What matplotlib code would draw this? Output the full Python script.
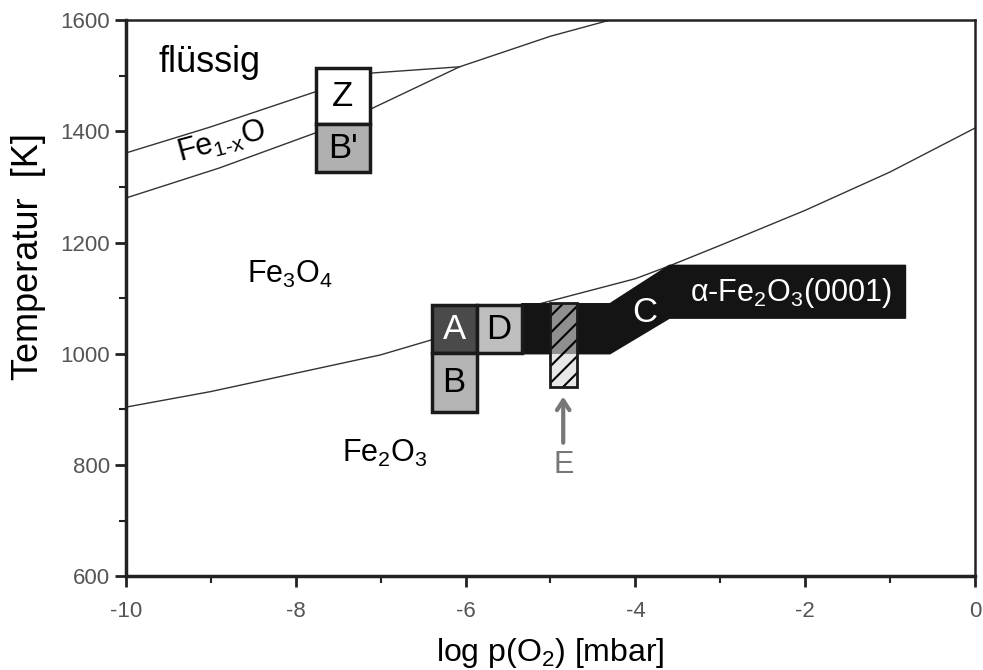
import matplotlib
matplotlib.use("Agg")
import matplotlib.pyplot as plt
from matplotlib.patches import Rectangle, Polygon
from matplotlib.ticker import MultipleLocator

plt.rcParams['font.family'] = ['Liberation Sans', 'DejaVu Sans']
plt.rcParams['mathtext.fontset'] = 'custom'
plt.rcParams['mathtext.rm'] = 'Liberation Sans'
plt.rcParams['mathtext.it'] = 'Liberation Sans'
plt.rcParams['axes.unicode_minus'] = False
plt.rcParams['hatch.linewidth'] = 1.5

# phase boundaries, log p(O2) [mbar] vs T [K]
liq_x = [-10, -9, -7.77, -7.09, -6.07]
liq_t = [1361, 1408, 1471, 1505, 1516]
wus_x = [-10, -8.9, -7.77, -7.09, -6.07, -5.0, -4.3]
wus_t = [1280, 1334, 1397, 1442, 1516, 1571, 1600]
hem_x = [-10, -9, -8, -7, -6.4, -5.1, -4, -3.6, -3, -2, -1, 0]
hem_t = [904, 932, 965, 998, 1025, 1091, 1135, 1158, 1195, 1258, 1327, 1406]

# preparation windows: label, x0, x1, T0, T1, face, text colour
boxes = [
    ("A", -6.40, -5.87, 1001, 1087, "#4a4a4a", "white"),
    ("D", -5.87, -5.34, 1001, 1087, "#bebebe", "black"),
    ("B", -6.40, -5.87, 895, 1001, "#b4b4b4", "black"),
    ("Z", -7.76, -7.13, 1413, 1514, "white", "black"),
    ("B'", -7.76, -7.13, 1327, 1413, "#b0b0b0", "black"),
]
c_x = [-5.34, -5.34, -4.3, -3.6, -0.82, -0.82, -3.6, -4.3]
c_t = [1000, 1090, 1090, 1159, 1159, 1064, 1064, 1000]
e_x = [-5.01, -4.69]
e_t = [940, 1091]

fig = plt.figure(figsize=(9.83, 6.70), dpi=100)
ax = fig.add_axes([0.128, 0.140, 0.864, 0.830])

for xs, ts in [(liq_x, liq_t), (wus_x, wus_t), (hem_x, hem_t)]:
    ax.plot(xs, ts, color="#333333", lw=1.0, zorder=1)

ax.add_patch(Polygon(list(zip(c_x, c_t)), closed=True, facecolor="#141414",
                     edgecolor="#141414", lw=1, zorder=2))

for lab, x0, x1, t0, t1, fc, tc in boxes:
    ax.add_patch(Rectangle((x0, t0), x1 - x0, t1 - t0, facecolor=fc,
                           edgecolor="#1a1a1a", lw=2.5, zorder=3))
    ax.text((x0 + x1) / 2, (t0 + t1) / 2, lab, color=tc, fontsize=25,
            ha="center", va="center", zorder=4)

# hatched window E
ax.add_patch(Rectangle((e_x[0], 1000), e_x[1] - e_x[0], e_t[1] - 1000,
                       facecolor="#8f8f8f", edgecolor="black", hatch="//",
                       lw=0, zorder=3))
ax.add_patch(Rectangle((e_x[0], e_t[0]), e_x[1] - e_x[0], 1000 - e_t[0],
                       facecolor="#e8e8e8", edgecolor="black", hatch="//",
                       lw=0, zorder=3))
ax.add_patch(Rectangle((e_x[0], e_t[0]), e_x[1] - e_x[0], e_t[1] - e_t[0],
                       facecolor="none", edgecolor="#1a1a1a", lw=2, zorder=4))
ex = (e_x[0] + e_x[1]) / 2
ax.annotate("", xy=(ex, 928), xytext=(ex, 835),
            arrowprops=dict(arrowstyle="->,head_length=0.7,head_width=0.45",
                            color="#777777", lw=3))
ax.text(ex, 800, "E", color="#777777", fontsize=22, ha="center", va="center")

ax.text(-3.89, 1075, "C", color="white", fontsize=25, ha="center", va="center",
        zorder=5)
ax.text(-3.36, 1094, r"$\alpha$-Fe$_2$O$_3$(0001)", color="white", fontsize=22,
        ha="left", va="baseline", zorder=5)

ax.text(-9.62, 1506, "flüssig", fontsize=26, ha="left", va="baseline")
ax.text(-8.87, 1381, r"Fe$_{1\text{-}x}$O", fontsize=22, ha="center", va="center",
        rotation=15, rotation_mode="anchor")
ax.text(-8.07, 1127, r"Fe$_3$O$_4$", fontsize=22, ha="center", va="baseline")
ax.text(-6.95, 805, r"Fe$_2$O$_3$", fontsize=22, ha="center", va="baseline")

ax.set_xlim(-10, 0)
ax.set_ylim(600, 1600)
ax.xaxis.set_major_locator(MultipleLocator(2))
ax.xaxis.set_minor_locator(MultipleLocator(1))
ax.yaxis.set_major_locator(MultipleLocator(200))
ax.yaxis.set_minor_locator(MultipleLocator(100))
ax.tick_params(which="both", direction="out", top=False, right=False,
               labelsize=16, labelcolor="#555555", color="#222222")
ax.tick_params(which="major", length=8, width=2)
ax.tick_params(axis="x", which="major", pad=10)
ax.tick_params(which="minor", length=5, width=1.5)
for side in ["left", "bottom"]:
    ax.spines[side].set_linewidth(2.5)
for side in ["top", "right"]:
    ax.spines[side].set_linewidth(1.8)
for s in ax.spines.values():
    s.set_color("#222222")

ax.set_xlabel(r"log p(O$_2$) [mbar]", fontsize=23, labelpad=10)
ax.set_ylabel("Temperatur  [K]", fontsize=26)
ax.yaxis.set_label_coords(-0.094, 0.574)

fig.savefig("out.png", dpi=100)
